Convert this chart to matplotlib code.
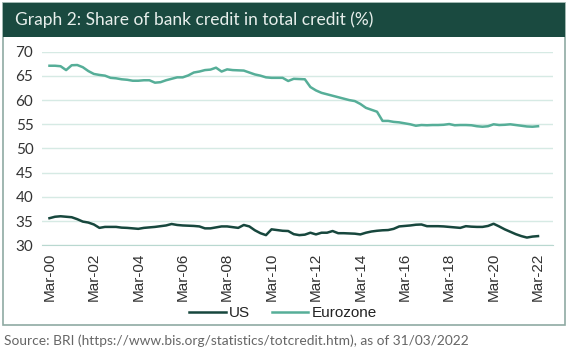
import matplotlib.pyplot as plt
from matplotlib.patches import Rectangle

# quarterly data, Mar-00 .. Mar-22
us = [35.6, 35.9, 36.0, 35.9, 35.8, 35.4, 34.9, 34.7, 34.3, 33.6,
      33.8, 33.8, 33.8, 33.65, 33.6, 33.5, 33.4, 33.6, 33.7, 33.8,
      33.95, 34.1, 34.4, 34.2, 34.1, 34.05, 34.0, 33.9, 33.5, 33.5,
      33.7, 33.9, 33.9, 33.75, 33.6, 34.2, 33.9, 33.1, 32.5, 32.1,
      33.3, 33.15, 33.0, 32.95, 32.3, 32.1, 32.2, 32.6, 32.25, 32.6,
      32.6, 32.95, 32.5, 32.5, 32.45, 32.4, 32.25, 32.6, 32.85, 33.0,
      33.1, 33.15, 33.4, 33.9, 34.0, 34.1, 34.25, 34.3, 33.95, 33.95,
      33.95, 33.9, 33.8, 33.7, 33.6, 33.95, 33.85, 33.8, 33.8, 34.0,
      34.45, 33.9, 33.3, 32.8, 32.3, 31.9, 31.6, 31.8, 31.9]
eurozone = [67.1, 67.1, 67.0, 66.2, 67.2, 67.25, 66.8, 66.0, 65.4, 65.2,
            65.05, 64.6, 64.5, 64.3, 64.2, 64.0, 64.0, 64.1, 64.1, 63.6,
            63.7, 64.1, 64.4, 64.7, 64.7, 65.1, 65.7, 65.9, 66.2, 66.3,
            66.7, 65.9, 66.35, 66.2, 66.15, 66.1, 65.7, 65.3, 65.05, 64.7,
            64.6, 64.6, 64.6, 63.95, 64.4, 64.35, 64.3, 62.7, 62.0, 61.5,
            61.2, 60.9, 60.6, 60.3, 60.0, 59.8, 59.2, 58.4, 58.0, 57.6,
            55.7, 55.7, 55.5, 55.4, 55.2, 55.0, 54.7, 54.85, 54.8, 54.85,
            54.85, 54.9, 55.05, 54.8, 54.85, 54.85, 54.8, 54.6, 54.5, 54.6,
            55.0, 54.85, 54.9, 55.0, 54.85, 54.7, 54.55, 54.5, 54.6]
tick_labels = ['Mar-%02d' % y for y in range(0, 23, 2)]
yticks = [30, 35, 40, 45, 50, 55, 60, 65, 70]

fig = plt.figure(figsize=(5.73, 3.55), dpi=100)
W, H = 573, 355

# outer frame and title bar
fig.patches.append(Rectangle((3 / W, 1 - 325 / H), 562 / W, 322 / H,
                             transform=fig.transFigure, fill=False,
                             edgecolor='#8FAAA3', linewidth=1.2))
fig.patches.append(Rectangle((3 / W, 1 - 37 / H), 562 / W, 34 / H,
                             transform=fig.transFigure, facecolor='#1A4A40',
                             edgecolor='none'))
fig.text(15 / W, 1 - 20 / H, 'Graph 2: Share of bank credit in total credit (%)',
         color='#E8EFEC', fontsize=12.5, family='Lato', va='center', ha='left')

ax = fig.add_axes([41.7 / W, 1 - 245.3 / H, (553 - 41.7) / W, (245.3 - 51.7) / H])
x = list(range(len(us)))
ax.plot(x, us, color='#17473D', linewidth=1.8, label='US')
ax.plot(x, eurozone, color='#56AE98', linewidth=1.8, label='Eurozone')

ax.set_ylim(30, 70)
ax.set_xlim(-1.4, 90.7)
ax.set_yticks(yticks)
ax.set_yticklabels([str(v) for v in yticks], family='Lato', fontsize=11, color='#333333')
ax.set_xticks(range(0, len(us), 8))
ax.set_xticklabels(tick_labels, rotation=90, family='Liberation Sans',
                   fontsize=11, color='#333333')
ax.tick_params(length=0, pad=5)
ax.tick_params(axis='y', pad=6)
ax.grid(axis='y', color='#D6EAE4', linewidth=1)
ax.set_axisbelow(True)
for s in ['top', 'right', 'left']:
    ax.spines[s].set_visible(False)
ax.spines['bottom'].set_color('#B9D8D0')

leg = fig.legend(loc='center', bbox_to_anchor=(283 / W, 1 - 313 / H), ncol=2,
                 frameon=False, prop={'family': 'Liberation Sans', 'size': 11},
                 handlelength=2.4, columnspacing=1.4, handletextpad=0.2,
                 borderpad=0)
for t in leg.get_texts():
    t.set_color('#222222')

fig.text(4 / W, 1 - 341 / H,
         'Source: BRI (https://www.bis.org/statistics/totcredit.htm), as of 31/03/2022',
         color='#666666', fontsize=9.9, family='Lato', va='center', ha='left')

fig.savefig('out.png', dpi=100)
